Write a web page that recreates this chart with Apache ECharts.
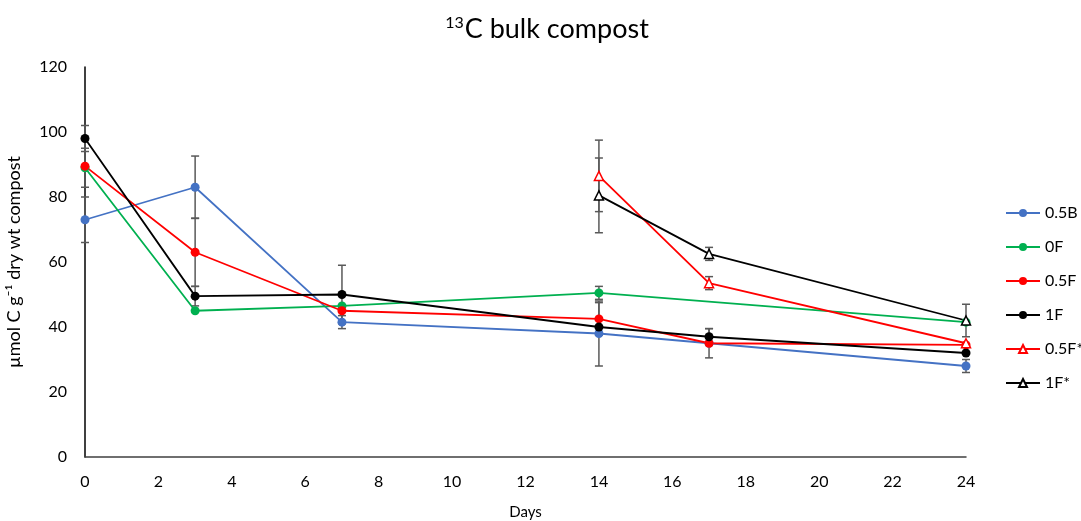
<!DOCTYPE html>
<html>
<head>
<meta charset="utf-8">
<script src="https://cdn.jsdelivr.net/npm/echarts@6/dist/echarts.min.js"></script>
<style>
  html, body { margin: 0; padding: 0; background: #fff; }
  #chart { width: 1081px; height: 521px; }
</style>
</head>
<body>
<div id="chart"></div>
<script>
// values: [day, mean, error]
const blue05B = [[0, 73, 7], [3, 83, 9.6], [7, 41.5, 2], [14, 38, 10], [17, 35, 0], [24, 28, 2]]
const green0F = [[0, 89, 6], [3, 45, 0], [7, 46.5, 0], [14, 50.5, 2], [24, 41.5, 0]]
const red05F = [[0, 89.5, 0], [3, 63, 10.5], [7, 45, 0], [14, 42.5, 5], [17, 35, 4.5], [24, 34.5, 0]]
const black1F = [[0, 98, 4], [3, 49.5, 3], [7, 50, 9], [14, 40, 0], [17, 37, 2.5], [24, 32, 0]]
const red05Fs = [[14, 86.5, 11], [17, 53.5, 2], [24, 35, 0]]
const black1Fs = [[14, 80.5, 11.5], [17, 62.5, 2], [24, 42, 5]]

const xTicks = [0, 2, 4, 6, 8, 10, 12, 14, 16, 18, 20, 22, 24]
const yTicks = [0, 20, 40, 60, 80, 100, 120]

const font = 'Lato, "Open Sans", sans-serif'

function lineSeries(name, rows, color, symbol) {
  return {
    name: name,
    type: 'line',
    data: rows.map(r => [r[0], r[1]]),
    symbol: symbol,
    symbolSize: 9,
    showSymbol: true,
    itemStyle: {
      color: symbol === 'circle' ? color : '#fff',
      borderColor: color,
      borderWidth: symbol === 'circle' ? 0 : 1.5
    },
    lineStyle: { color: color, width: 1.8 },
    z: 3
  }
}

function errorSeries(rows) {
  return {
    type: 'custom',
    silent: true,
    z: 2,
    data: rows.filter(r => r[2] > 0).map(r => [r[0], r[1] - r[2], r[1] + r[2]]),
    renderItem: function (params, api) {
      const lo = api.coord([api.value(0), api.value(1)])
      const hi = api.coord([api.value(0), api.value(2)])
      const w = 4
      const style = { stroke: '#595959', lineWidth: 1.5 }
      return {
        type: 'group',
        children: [
          { type: 'line', shape: { x1: lo[0], y1: lo[1], x2: hi[0], y2: hi[1] }, style: style },
          { type: 'line', shape: { x1: lo[0] - w, y1: lo[1], x2: lo[0] + w, y2: lo[1] }, style: style },
          { type: 'line', shape: { x1: hi[0] - w, y1: hi[1], x2: hi[0] + w, y2: hi[1] }, style: style }
        ]
      }
    }
  }
}

const chart = echarts.init(document.getElementById('chart'))
chart.setOption({
  animation: false,
  title: {
    text: '{sup|13}C bulk compost',
    left: 542,
    textAlign: 'center',
    top: 10,
    textStyle: {
      fontFamily: font,
      fontSize: 27,
      fontWeight: 'normal',
      color: '#000',
      rich: {
        sup: { fontFamily: font, fontSize: 16, color: '#000', verticalAlign: 'top', padding: [0, 1, 12, 0] }
      }
    }
  },
  legend: {
    orient: 'vertical',
    left: 1000,
    top: 200,
    itemGap: 18,
    itemWidth: 34,
    itemHeight: 10,
    textStyle: { fontFamily: font, fontSize: 16, color: '#000' },
    data: ['0.5B', '0F', '0.5F', '1F', '0.5F*', '1F*']
  },
  grid: { left: 85, right: 115, top: 67, bottom: 64, containLabel: false, outerBoundsMode: 'none' },
  xAxis: {
    type: 'value',
    min: 0,
    max: 24,
    interval: 2,
    name: 'Days',
    nameLocation: 'middle',
    nameGap: 48,
    nameTextStyle: { fontFamily: font, fontSize: 15, color: '#000' },
    splitLine: { show: false },
    axisTick: { show: false },
    axisLine: { lineStyle: { color: '#404040', width: 1.5 } },
    axisLabel: {
      fontFamily: font, fontSize: 16, color: '#000', margin: 17,
      formatter: v => xTicks.includes(v) ? String(v) : ''
    }
  },
  yAxis: {
    type: 'value',
    min: 0,
    max: 120,
    interval: 20,
    name: 'µmol C g\u207B\u00B9 dry wt compost',
    nameLocation: 'middle',
    nameGap: 62,
    nameTextStyle: { fontFamily: font, fontSize: 18, color: '#000' },
    splitLine: { show: false },
    axisTick: { show: false },
    axisLine: { show: true, lineStyle: { color: '#000', width: 1.5 } },
    axisLabel: {
      fontFamily: font, fontSize: 16, color: '#000', margin: 18,
      formatter: v => yTicks.includes(v) ? String(v) : ''
    }
  },
  series: [
    errorSeries(blue05B),
    errorSeries(green0F),
    errorSeries(red05F),
    errorSeries(black1F),
    errorSeries(red05Fs),
    errorSeries(black1Fs),
    lineSeries('0.5B', blue05B, '#4472C4', 'circle'),
    lineSeries('0F', green0F, '#00B050', 'circle'),
    lineSeries('0.5F', red05F, '#FF0000', 'circle'),
    lineSeries('1F', black1F, '#000000', 'circle'),
    lineSeries('0.5F*', red05Fs, '#FF0000', 'triangle'),
    lineSeries('1F*', black1Fs, '#000000', 'triangle')
  ]
})
</script>
</body>
</html>
